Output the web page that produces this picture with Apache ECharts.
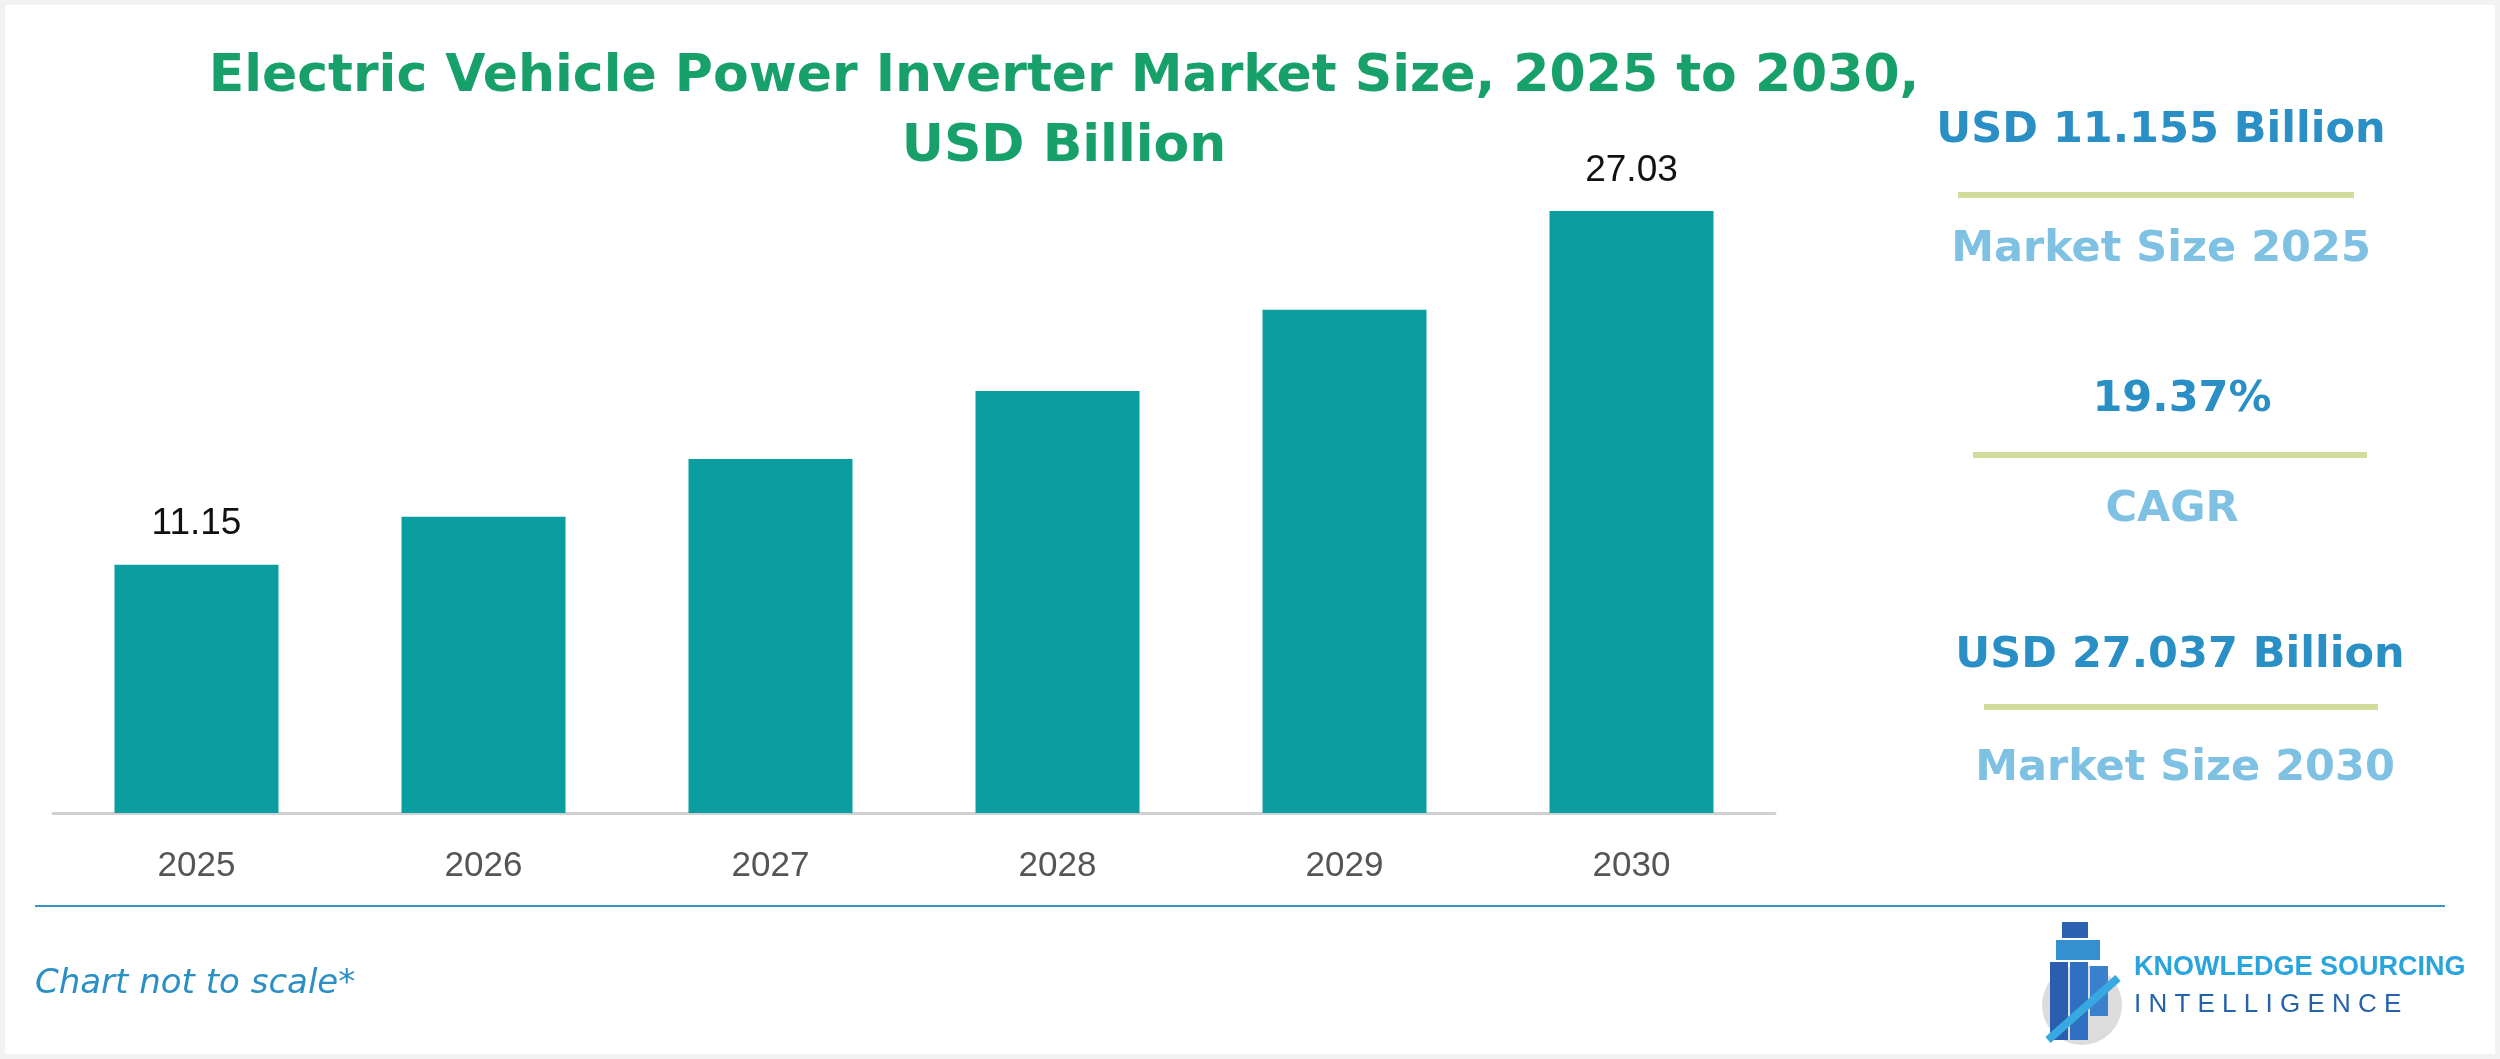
<!DOCTYPE html>
<html><head><meta charset="utf-8">
<script src="https://cdn.jsdelivr.net/npm/echarts@6/dist/echarts.min.js"></script>
<style>html,body{margin:0;padding:0;background:#f4f4f4}#c{width:2500px;height:1059px}</style>
</head><body><div id="c"></div>
<script>
const categories = ['2025','2026','2027','2028','2029','2030'];
const values = [11.15, 13.3, 15.9, 18.95, 22.6, 27.03];
const labelShown = [true, false, false, false, false, true];

const chart = echarts.init(document.getElementById('c'));
const F = 'DejaVu Sans';
const blue = '#2a8fc4', light = '#7ec1e3', lineC = '#cfdc9c';
function t(x, y, text, size, color, opt) {
  return Object.assign({type:'text', x, y, style:{text, fontFamily:F, fontSize:size, fontWeight:'bold', fill:color, textAlign:'center', textVerticalAlign:'middle'}}, opt||{});
}
function hl(x1, x2, y, color, w) {
  return {type:'line', shape:{x1, y1:y, x2, y2:y}, style:{stroke:color, lineWidth:w}};
}
chart.setOption({
  backgroundColor: '#ffffff',
  animation: false,
  grid: {left:53, width:1722, top:211, height:602},
  xAxis: {type:'category', data:categories,
    axisLine:{lineStyle:{color:'#d0d0d0', width:3}}, axisTick:{show:false},
    axisLabel:{color:'#555', fontSize:35, fontFamily:'Liberation Sans', margin:36}},
  yAxis: {type:'value', min:0, max:27.03, show:false, splitLine:{show:false}},
  series: [{type:'bar', data: values.map((v,i)=>({value:v, label:{show:labelShown[i]}})),
    barWidth:164, itemStyle:{color:'#0a9ea0'},
    label:{position:'top', distance:22, color:'#111', fontSize:37, fontFamily:'Liberation Sans', formatter:p=>p.value.toFixed(2)}}],
  graphic: [
    {type:'rect', shape:{x:0,y:0,width:2500,height:1059}, style:{fill:'none', stroke:'#f2f2f2', lineWidth:10}, silent:true},
    t(1064, 77, 'Electric Vehicle Power Inverter Market Size, 2025 to 2030,', 52, '#17a06a'),
    t(1064, 147, 'USD Billion', 52, '#17a06a'),
    t(2161, 131, 'USD 11.155 Billion', 43, blue),
    hl(1958, 2354, 195, lineC, 6),
    t(2161, 250, 'Market Size 2025', 43, light),
    t(2182, 400, '19.37%', 43, blue),
    hl(1973, 2367, 455, lineC, 6),
    t(2172, 510, 'CAGR', 43, light),
    t(2180, 656, 'USD 27.037 Billion', 43, blue),
    hl(1984, 2378, 707, lineC, 6),
    t(2185, 769, 'Market Size 2030', 43, light),
    hl(35, 2445, 906, '#3a95c4', 2),
    {type:'text', x:35, y:984, style:{text:'Chart not to scale*', fontFamily:F, fontSize:34, fontStyle:'italic', fill:blue, textVerticalAlign:'middle'}},
    {type:'circle', shape:{cx:2082, cy:1005, r:40}, style:{fill:'#dcdcdc'}},
    {type:'rect', shape:{x:2050, y:962, width:18, height:78}, style:{fill:'#2a5db0'}},
    {type:'rect', shape:{x:2070, y:962, width:18, height:78}, style:{fill:'#2f6fc0'}},
    {type:'rect', shape:{x:2090, y:966, width:18, height:50}, style:{fill:'#3a80cc'}},
    {type:'rect', shape:{x:2056, y:940, width:44, height:20}, style:{fill:'#3590d0'}},
    {type:'rect', shape:{x:2062, y:922, width:26, height:16}, style:{fill:'#2c60b0'}},
    {type:'line', shape:{x1:2048, y1:1040, x2:2118, y2:978}, style:{stroke:'#38a8e0', lineWidth:8}},
    {type:'text', x:2134, y:968, style:{text:'KNOWLEDGE SOURCING', fontFamily:'Liberation Sans', fontSize:27, fontWeight:'bold', fill:'#2aa4dc', textVerticalAlign:'middle'}},
    {type:'text', x:2134, y:1005, style:{text:'I N T E L L I G E N C E', fontFamily:'Liberation Sans', fontSize:26, fill:'#2462aa', textVerticalAlign:'middle'}}
  ]
});
</script></body></html>
